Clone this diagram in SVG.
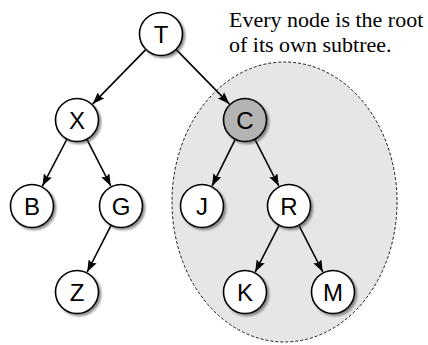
<svg xmlns="http://www.w3.org/2000/svg" width="428" height="345" viewBox="0 0 428 345">
<style>
.node circle{fill:#fff;stroke:#000;stroke-width:1.6;filter:url(#sh)}
.node.hl circle{fill:#b3b3b3}
.node text{font-family:"Liberation Sans",Arial,sans-serif;font-size:24px;text-anchor:middle;fill:#000}
.edges line{stroke:#000;stroke-width:1.6;marker-end:url(#arr)}
.note{font-family:"Liberation Serif","Times New Roman",serif;font-size:22px;fill:#000}
</style>
<defs>
<filter id="sh" x="-30%" y="-30%" width="160%" height="160%">
<feDropShadow dx="2" dy="2" stdDeviation="1" flood-color="#444" flood-opacity="0.6"/>
</filter>
<marker id="arr" markerUnits="userSpaceOnUse" markerWidth="12" markerHeight="9" refX="12" refY="4.5" orient="auto">
<path d="M0,0 L12,4.5 L0,9 L2,4.5 z" fill="#000"/>
</marker>
</defs>
<ellipse id="subtree" cx="284.5" cy="202" rx="112.5" ry="140" fill="#e6e6e6" stroke="#000" stroke-width="0.9" stroke-dasharray="3,2"/>
<text class="note" x="229" y="27">Every node is the root</text>
<text class="note" x="229" y="52">of its own subtree.</text>
<g class="edges">
<line x1="146" y1="49.4" x2="92.7" y2="103.9"/>
<line x1="176" y1="49.4" x2="229.3" y2="103.9"/>
<line x1="67" y1="139" x2="42.4" y2="186.1"/>
<line x1="86.8" y1="139.1" x2="110.8" y2="186"/>
<line x1="111.2" y1="225.1" x2="87.2" y2="272"/>
<line x1="235.4" y1="139.2" x2="212.1" y2="185.9"/>
<line x1="254.8" y1="139.1" x2="278.8" y2="186"/>
<line x1="279.2" y1="225.1" x2="255.2" y2="272"/>
<line x1="298.8" y1="225.1" x2="322.8" y2="272"/>
</g>
<g id="T" class="node"><circle cx="161" cy="34" r="21.5"/><text x="161" y="42.5">T</text></g>
<g id="X" class="node"><circle cx="77" cy="120" r="21.5"/><text x="77" y="128.5">X</text></g>
<g id="C" class="node hl"><circle cx="245" cy="120" r="21.5"/><text x="245" y="128.5">C</text></g>
<g id="B" class="node"><circle cx="32" cy="206" r="21.5"/><text x="32" y="214.5">B</text></g>
<g id="G" class="node"><circle cx="121" cy="206" r="21.5"/><text x="121" y="214.5">G</text></g>
<g id="J" class="node"><circle cx="202" cy="206" r="21.5"/><text x="202" y="214.5">J</text></g>
<g id="R" class="node"><circle cx="289" cy="206" r="21.5"/><text x="289" y="214.5">R</text></g>
<g id="Z" class="node"><circle cx="77" cy="292" r="21.5"/><text x="77" y="300.5">Z</text></g>
<g id="K" class="node"><circle cx="245" cy="292" r="21.5"/><text x="245" y="300.5">K</text></g>
<g id="M" class="node"><circle cx="333" cy="292" r="21.5"/><text x="333" y="300.5">M</text></g>
</svg>
